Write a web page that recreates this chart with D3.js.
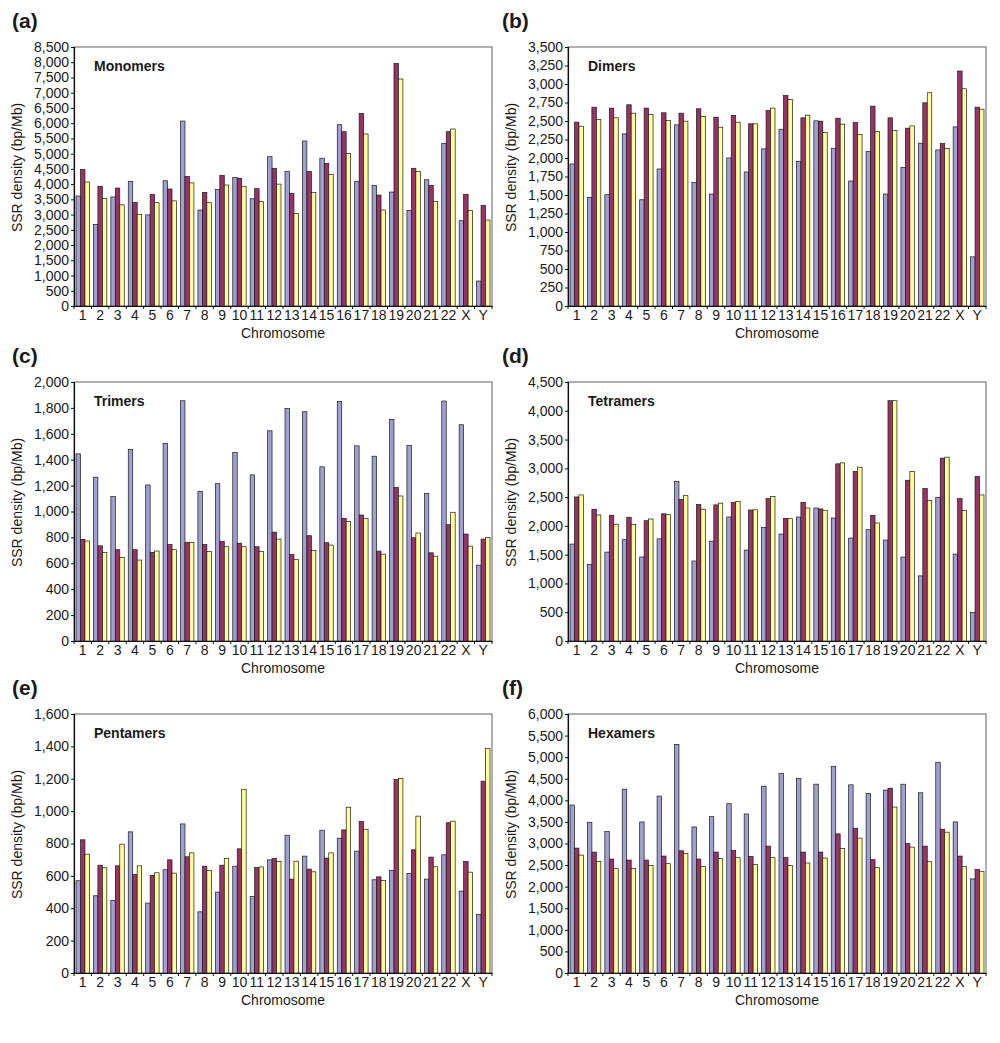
<!DOCTYPE html>
<html><head><meta charset="utf-8">
<script src="https://cdn.jsdelivr.net/npm/d3@7"></script>
<style>
body{margin:0;background:#fff;}
text{font-family:"Liberation Sans",Arial,Helvetica,sans-serif;fill:#1a1a1a;}
</style>
</head><body>
<svg id="chart" width="1000" height="1043"></svg>
<script>
const chromosomes = ["1","2","3","4","5","6","7","8","9","10","11","12","13","14","15","16","17","18","19","20","21","22","X","Y"];
const panelLetters = ["(a)","(b)","(c)","(d)","(e)","(f)"];
const panelTitles = ["Monomers","Dimers","Trimers","Tetramers","Pentamers","Hexamers"];
const yMaxima = [8500,3500,2000,4500,1600,6000];
const yTickSteps = [500,250,200,500,200,500];
const yAxisTitle = "SSR density (bp/Mb)";
const xAxisTitle = "Chromosome";

const monomersS1 = [3610,2680,3580,4090,2990,4110,6070,3150,3820,4220,3520,4900,4420,5415,4850,5950,4090,3950,3740,3140,4145,5340,2800,820];
const monomersS2 = [4475,3930,3870,3400,3660,3840,4250,3730,4290,4190,3850,4520,3700,4410,4680,5720,6320,3640,7965,4520,3960,5720,3665,3300];
const monomersS3 = [4070,3530,3320,3010,3390,3450,4040,3390,3970,3930,3435,4000,3040,3730,4320,5010,5645,3150,7450,4410,3425,5810,3130,2820];

const dimersS1 = [1920,1468,1504,2326,1436,1852,2448,1671,1513,2001,1811,2123,2389,1956,2502,2132,1689,2087,1513,1870,2200,2109,2421,664];
const dimersS2 = [2485,2687,2674,2719,2674,2611,2606,2665,2552,2575,2462,2642,2845,2543,2498,2538,2480,2701,2543,2403,2746,2195,3175,2687];
const dimersS3 = [2430,2520,2543,2606,2588,2507,2498,2561,2416,2484,2462,2674,2791,2579,2344,2457,2317,2358,2371,2434,2882,2127,2936,2660];

const trimersS1 = [1445,1265,1115,1480,1205,1525,1855,1155,1215,1455,1283,1623,1796,1770,1345,1850,1507,1427,1711,1510,1138,1853,1670,586];
const trimersS2 = [785,735,705,705,685,745,762,745,770,755,728,841,668,813,759,947,973,694,1185,797,681,898,826,787];
const trimersS3 = [772,685,645,625,695,705,762,690,728,728,692,787,630,699,741,924,945,671,1120,834,655,994,733,800];

const tetramersS1 = [1684,1330,1545,1760,1460,1775,2770,1390,1735,2155,1580,1974,1858,2154,2311,2137,1789,1934,1754,1458,1132,2497,1510,494];
const tetramersS2 = [2503,2290,2185,2150,2090,2210,2460,2370,2365,2405,2276,2474,2131,2410,2295,3078,2944,2184,4175,2793,2648,3177,2474,2857];
const tetramersS3 = [2538,2190,2030,2025,2120,2195,2525,2290,2395,2425,2280,2509,2125,2311,2271,3095,3020,2050,4175,2944,2439,3194,2265,2538];

const pentamersS1 = [570,477,448,872,432,638,921,378,500,660,472,699,851,722,882,833,753,576,633,615,580,730,506,362];
const pentamersS2 = [823,666,662,609,603,699,718,660,666,767,651,707,580,642,710,884,936,594,1195,761,716,928,689,1185];
const pentamersS3 = [734,650,796,662,619,617,742,633,707,1135,655,689,691,625,742,1024,888,572,1201,969,656,938,623,1386];

const hexamersS1 = [3891,3492,3277,4259,3500,4098,5295,3384,3622,3922,3684,4328,4620,4505,4374,4789,4359,4160,4236,4374,4175,4881,3500,2180];
const hexamersS2 = [2893,2801,2640,2617,2617,2709,2832,2640,2801,2840,2701,2939,2678,2801,2801,3223,3354,2625,4282,3001,2939,3331,2709,2402];
const hexamersS3 = [2732,2586,2417,2417,2494,2533,2770,2471,2648,2671,2517,2671,2487,2548,2663,2886,3124,2440,3845,2916,2579,3262,2471,2356];

const panelSeries = [
  [monomersS1, monomersS2, monomersS3],
  [dimersS1, dimersS2, dimersS3],
  [trimersS1, trimersS2, trimersS3],
  [tetramersS1, tetramersS2, tetramersS3],
  [pentamersS1, pentamersS2, pentamersS3],
  [hexamersS1, hexamersS2, hexamersS3]
];

const seriesColors = ["#a0a0d0","#993366","#ffff99"];
const colLeft = [74, 568];
const rowTop = [47, 382, 714];
const plotW = 418, plotH = 259;

const svg = d3.select("#chart");
const fmt = d3.format(",");

panelSeries.forEach((series, p) => {
  const col = p % 2, row = Math.floor(p / 2);
  const left = colLeft[col], top = rowTop[row];
  const g = svg.append("g").attr("transform", `translate(${left},${top})`);

  const x = d3.scaleBand().domain(chromosomes).range([0, plotW]).paddingInner(0.23).paddingOuter(0.115);
  const y = d3.scaleLinear().domain([0, yMaxima[p]]).range([plotH, 0]);
  const ticks = d3.range(0, yMaxima[p] + 1, yTickSteps[p]);

  // frame
  g.append("rect").attr("x", 0).attr("y", 0).attr("width", plotW).attr("height", plotH)
    .attr("fill", "none").attr("stroke", "#7a7a7a").attr("stroke-width", 1.2);

  // bars
  const bw = x.bandwidth() / 3;
  series.forEach((vals, s) => {
    g.append("g").selectAll("rect").data(chromosomes).join("rect")
      .attr("x", (d) => x(d) + s * bw)
      .attr("y", (d, i) => y(vals[i]))
      .attr("width", bw)
      .attr("height", (d, i) => y(0) - y(vals[i]))
      .attr("fill", seriesColors[s])
      .attr("stroke", "#1a1a1a")
      .attr("stroke-width", 0.7);
  });

  // y axis
  const ya = g.append("g").call(d3.axisLeft(y).tickValues(ticks).tickSize(3).tickPadding(2).tickFormat(fmt));
  ya.select(".domain").attr("stroke", "#111").attr("stroke-width", 1.2);
  ya.selectAll(".tick line").attr("stroke", "#111");
  ya.selectAll("text").attr("font-size", 14).style("font-family", '"Liberation Sans",Arial,sans-serif').attr("fill", "#1a1a1a");

  // x axis
  const xa = g.append("g").attr("transform", `translate(0,${plotH})`)
    .call(d3.axisBottom(x).tickSize(0).tickPadding(4));
  xa.select(".domain").attr("stroke", "#111").attr("stroke-width", 1.2);
  xa.selectAll("text").attr("font-size", 14).style("font-family", '"Liberation Sans",Arial,sans-serif').attr("fill", "#1a1a1a");
  // category boundary ticks
  g.append("g").selectAll("line").data(d3.range(chromosomes.length + 1)).join("line")
    .attr("x1", (i) => i * x.step()).attr("x2", (i) => i * x.step())
    .attr("y1", plotH).attr("y2", plotH + 3)
    .attr("stroke", "#111").attr("stroke-width", 1);

  // titles
  g.append("text").attr("x", 20).attr("y", 24).attr("font-size", 14).attr("font-weight", "bold").text(panelTitles[p]);
  g.append("text").attr("x", plotW / 2).attr("y", plotH + 32).attr("text-anchor", "middle").attr("font-size", 14).text(xAxisTitle);
  g.append("text").attr("transform", `translate(-52,${plotH / 2 - 9}) rotate(-90)`)
    .attr("text-anchor", "middle").attr("font-size", 14).text(yAxisTitle);
  g.append("text").attr("x", (col === 0 ? 12 : 502) - left).attr("y", -19)
    .attr("font-size", 21).attr("font-weight", "bold").text(panelLetters[p]);
});
</script>
</body></html>
